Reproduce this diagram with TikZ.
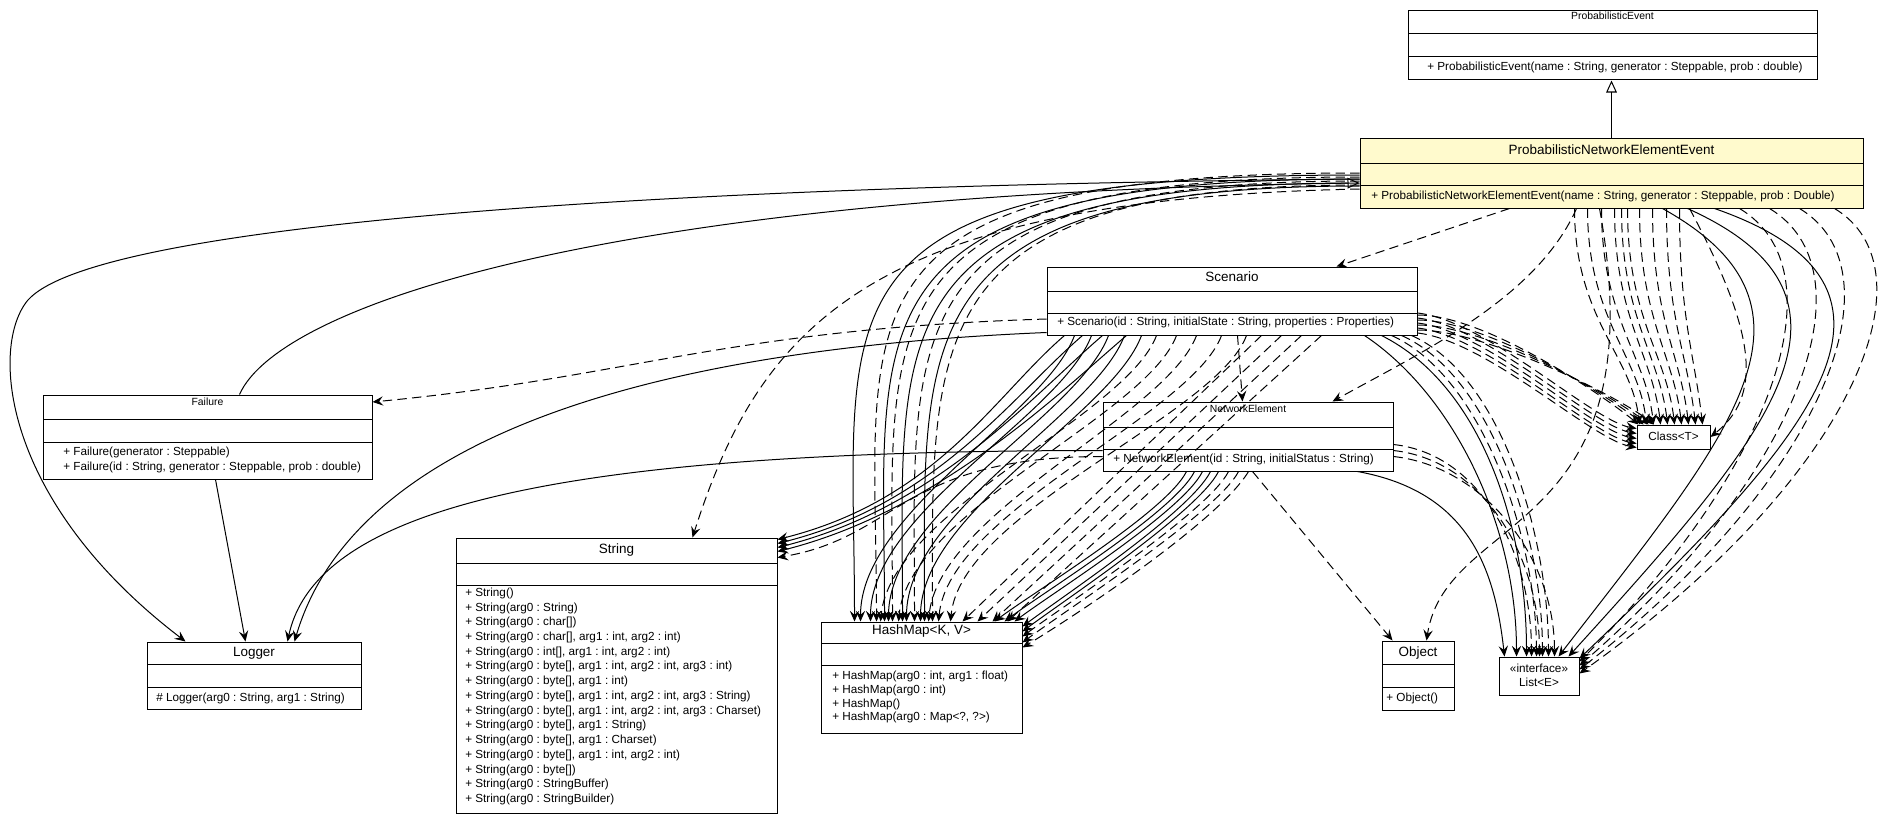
\documentclass[tikz,border=0pt]{standalone}
\usepackage{fontspec}
\setmainfont{Liberation Sans}
\usetikzlibrary{arrows.meta,calc,fit}
\definecolor{pneefill}{RGB}{255,250,205}
\frenchspacing
\tikzset{
  box/.style={draw, line width=0.75pt, inner sep=0pt, fill=white},
  sepline/.style={line width=0.75pt},
  ttl/.style={inner sep=0pt, anchor=base, font=\fontsize{10.1}{12}\selectfont},
  ttls/.style={inner sep=0pt, anchor=base, font=\fontsize{7.8}{9}\selectfont},
  mem/.style={inner sep=0pt, anchor=north west, align=left, font=\fontsize{8.8}{11.05}\selectfont},
  conn/.style={line width=0.75pt, -{Stealth[length=8pt,width=7pt,inset=3pt]}},
  dep/.style={conn, dash pattern=on 7pt off 4pt},
  use/.style={conn},
  gen/.style={line width=0.75pt, -{Triangle[open,length=9pt,width=8pt,fill=white]}},
}
\newcommand{\umlbox}[8]{%
  \node[box, fit={(#2,#3) (#4,#7)}, fill=#8] (#1) {};
  \draw[sepline] (#2,#5) -- (#4,#5) (#2,#6) -- (#4,#6);
}
\begin{document}
\begin{tikzpicture}[x=0.75pt,y=-0.75pt]
\useasboundingbox (0,0) rectangle (1880,824);
\fill[white] (0,0) rectangle (1880,824);

% ---------------- classes ----------------
\umlbox{pe}{1408}{11}{1817}{34}{57}{80}{white}
\node[ttls] (pe-t) at (1612.5,19.5) {ProbabilisticEvent};
\node[mem] (pe-m) at (1427,62) {+ ProbabilisticEvent(name : String, generator : Steppable, prob : double)};

\umlbox{pnee}{1360}{138}{1863}{163}{185}{208}{pneefill}
\node[ttl] (pnee-t) at (1611.5,154) {ProbabilisticNetworkElementEvent};
\node[mem] (pnee-m) at (1371,190.5) {+ ProbabilisticNetworkElementEvent(name : String, generator : Steppable, prob : Double)};

\umlbox{scn}{1047}{267}{1417}{291}{313}{335}{white}
\node[ttl] (scn-t) at (1232,281) {Scenario};
\node[mem] (scn-m) at (1057,316.5) {+ Scenario(id : String, initialState : String, properties : Properties)};

\umlbox{ne}{1103}{402}{1393}{427}{449}{471}{white}
\node[ttls] (ne-t) at (1248,412) {NetworkElement};
\node[mem] (ne-m) at (1113,454) {+ NetworkElement(id : String, initialStatus : String)};

\umlbox{fail}{43}{395}{372}{419}{442}{479}{white}
\node[ttls] (fail-t) at (207.5,405) {Failure};
\node[mem] (fail-m) at (63,447) {+ Failure(generator : Steppable)\\+ Failure(id : String, generator : Steppable, prob : double)};

\umlbox{log}{147}{642}{361}{664}{687}{709}{white}
\node[ttl] (log-t) at (254,656) {Logger};
\node[mem] (log-m) at (156,693) {\# Logger(arg0 : String, arg1 : String)};

\umlbox{str}{456}{538}{777}{563}{585}{813}{white}
\node[ttl] (str-t) at (616.5,553) {String};
\node[mem] (str-m) at (465,587.5) {+ String()\\
+ String(arg0 : String)\\
+ String(arg0 : char[])\\
+ String(arg0 : char[], arg1 : int, arg2 : int)\\
+ String(arg0 : int[], arg1 : int, arg2 : int)\\
+ String(arg0 : byte[], arg1 : int, arg2 : int, arg3 : int)\\
+ String(arg0 : byte[], arg1 : int)\\
+ String(arg0 : byte[], arg1 : int, arg2 : int, arg3 : String)\\
+ String(arg0 : byte[], arg1 : int, arg2 : int, arg3 : Charset)\\
+ String(arg0 : byte[], arg1 : String)\\
+ String(arg0 : byte[], arg1 : Charset)\\
+ String(arg0 : byte[], arg1 : int, arg2 : int)\\
+ String(arg0 : byte[])\\
+ String(arg0 : StringBuffer)\\
+ String(arg0 : StringBuilder)};

\umlbox{hm}{821}{622}{1022}{643}{665}{733}{white}
\node[ttl] (hm-t) at (921.5,634) {HashMap<K, V>};
\node[mem, font=\fontsize{8.8}{10.4}\selectfont] (hm-m) at (832,670.5) {+ HashMap(arg0 : int, arg1 : float)\\
+ HashMap(arg0 : int)\\
+ HashMap()\\
+ HashMap(arg0 : Map<?, ?>)};

\umlbox{obj}{1382}{641}{1454}{664}{687}{710}{white}
\node[ttl] (obj-t) at (1418,656) {Object};
\node[mem] (obj-m) at (1386,692.5) {+ Object()};

\node[box, fit={(1499,657) (1579,695)}] (lst) {};
\node[inner sep=0pt, anchor=north, align=center, font=\fontsize{8.8}{10.5}\selectfont] (lst-t) at (1539,664) {«interface»\\List<E>};

\node[box, fit={(1637,425) (1710,449)}] (cls) {};
\node[inner sep=0pt, anchor=base, font=\fontsize{8.8}{10.5}\selectfont] (cls-t) at (1673.5,440.5) {Class<T>};

% ---------------- generalizations ----------------
\draw[gen] ($(pnee.north west)+(252,0)$) -- ($(pe.south west)+(204,0)$);
\draw[gen] ($(fail.north west)+(197,0)$) .. controls +(40,-90) and +(-750,10) .. ($(pnee.west)+(0,10)$);

% ---------------- Logger ----------------
\draw[use] ($(pnee.west)+(0,6)$) .. controls (700,185) and (100,220) .. (28,300) .. controls (-10,345) and (0,500) .. ($(log.north west)+(39,0)$);
\draw[use] ($(fail.south west)+(173,0)$) -- ($(log.north west)+(99,0)$);
\draw[use] ($(ne.west)+(0,14)$) .. controls +(-520,0) and +(30,-140) .. ($(log.north west)+(141,0)$);
\draw[use] ($(scn.south west)+(0,-3)$) .. controls +(-480,20) and +(50,-170) .. ($(log.north west)+(148,0)$);

% ---------------- Failure ----------------
\draw[dep] ($(scn.west)+(0,18)$) .. controls +(-320,10) and +(260,-25) .. ($(fail.east)+(0,-35)$);

% ---------------- String ----------------
\draw[dep] ($(pnee.west)+(0,16)$) .. controls +(-480,10) and +(70,-220) .. ($(str.north west)+(237,0)$);
\foreach \s/\e in {18/2, 36/6, 56/10, 80/14}
  \draw[use] ($(scn.south west)+(\s,0)$) .. controls +(-70,60) and +(160,-40) .. ($(str.north east)+(0,\e)$);
\draw[dep] ($(ne.west)+(0,20)$) .. controls +(-200,0) and +(120,-20) .. ($(str.north east)+(0,20)$);

% ---------------- Scenario / NetworkElement ----------------
\draw[dep] ($(scn.south west)+(191,0)$) -- ($(ne.north west)+(140,0)$);
\draw[dep] ($(pnee.south west)+(150,0)$) -- ($(scn.north west)+(290,0)$);
\draw[dep] ($(pnee.south west)+(217,0)$) .. controls +(-40,90) and +(90,-50) .. ($(ne.north west)+(230,0)$);

% ---------------- Class<T> ----------------
\foreach \s/\e in {215/3,228/10,242/17,255/24,262/31,268/38,280/45,293/52,307/59,320/66}
  \draw[dep] ($(pnee.south west)+(\s,0)$) .. controls +(0,110) and +(-8,-70) .. ($(cls.north west)+(\e,0)$);
\draw[dep] ($(pnee.south west)+(330,0)$) .. controls +(70,130) and +(50,-40) .. (cls.east);
\foreach \s/\e in {12/4, 17/9, 22/14, 27/19, 32/23}
  \draw[dep] ($(scn.east)+(0,\s)$) .. controls +(70,8) and +(-45,-8) .. ($(cls.north west)+(0,\e)$);
\foreach \s/\e in {14/2, 19/7, 24/12, 29/17}
  \draw[dep] ($(scn.east)+(0,\s)$) .. controls +(70,0) and +(-30,-25) .. ($(cls.north west)+(\e,0)$);

% ---------------- List<E> ----------------
\draw[use] ($(pnee.south west)+(303,0)$) .. controls +(180,100) and +(170,-220) .. ($(lst.north west)+(60,0)$);
\draw[use] ($(pnee.south west)+(328,0)$) .. controls +(200,90) and +(200,-220) .. ($(lst.north west)+(70,0)$);
\draw[use] ($(pnee.south west)+(355,0)$) .. controls +(230,80) and +(230,-220) .. ($(lst.north east)+(0,2)$);
\foreach \s/\e/\c in {380/5/200, 410/9/230, 440/13/255, 475/17/280}
  \draw[dep] ($(pnee.south west)+(\s,0)$) .. controls +(100,60) and +(\c,-200) .. ($(lst.north east)+(0,\e)$);
\draw[use] ($(scn.south west)+(318,0)$) .. controls +(90,60) and +(0,-130) .. ($(lst.north west)+(18,0)$);
\draw[use] ($(scn.south west)+(335,0)$) .. controls +(100,50) and +(0,-130) .. ($(lst.north west)+(28,0)$);
\foreach \s/\e in {345/38, 355/44, 365/50}
  \draw[dep] ($(scn.south west)+(\s,0)$) .. controls +(90,40) and +(0,-120) .. ($(lst.north west)+(\e,0)$);
\draw[use] ($(ne.south west)+(255,0)$) .. controls +(110,20) and +(-10,-90) .. ($(lst.north west)+(6,0)$);
\foreach \s/\e in {8/33, 14/41, 20/56}
  \draw[dep] ($(ne.east)+(0,\s)$) .. controls +(90,10) and +(0,-100) .. ($(lst.north west)+(\e,0)$);

% ---------------- Object ----------------
\draw[dep] ($(ne.south west)+(150,0)$) -- ($(obj.north west)+(11,0)$);
\draw[dep] ($(pnee.south west)+(240,0)$) .. controls +(60,330) and +(20,-130) .. ($(obj.north west)+(45,0)$);

% ---------------- HashMap ----------------
\foreach \s/\e/\a/\b in {2/34/560/320, 6/64/520/300, 10/82/490/290, 13/104/460/280}
  \draw[use] ($(pnee.west)+(0,\s)$) .. controls +(-\a,0) and +(0,-\b) .. ($(hm.north west)+(\e,0)$);
\foreach \s/\e/\a/\b in {0/56/540/310, 4/72/505/300, 8/94/475/290, 12/112/445/280}
  \draw[dep] ($(pnee.west)+(0,\s)$) .. controls +(-\a,0) and +(0,-\b) .. ($(hm.north west)+(\e,0)$);
\foreach \s/\e in {28/40, 45/50, 62/68, 78/86, 95/100}
  \draw[use] ($(scn.south west)+(\s,0)$) .. controls +(-30,80) and +(0,-110) .. ($(hm.north west)+(\e,0)$);
\foreach \s/\e in {110/60, 130/78, 150/108, 175/118, 200/130}
  \draw[dep] ($(scn.south west)+(\s,0)$) .. controls +(-30,80) and +(10,-110) .. ($(hm.north west)+(\e,0)$);
\foreach \s/\e in {215/60, 235/45, 255/30, 275/15}
  \draw[dep] ($(scn.south west)+(\s,0)$) -- ($(hm.north east)+(-\e,0)$);
\foreach \s/\e in {84/28, 92/18, 100/8}
  \draw[use] ($(ne.south west)+(\s,0)$) .. controls +(-20,40) and +(40,-30) .. ($(hm.north east)+(-\e,0)$);
\foreach \s/\e in {108/5, 116/10}
  \draw[use] ($(ne.south west)+(\s,0)$) .. controls +(-20,40) and +(40,-30) .. ($(hm.north east)+(0,\e)$);
\foreach \s/\e in {126/15, 136/21}
  \draw[dep] ($(ne.south west)+(\s,0)$) .. controls +(-20,40) and +(40,-30) .. ($(hm.north east)+(0,\e)$);
\draw[dep] ($(ne.south west)+(146,0)$) .. controls +(-30,50) and +(50,-30) .. ($(hm.east)+(0,-30)$);
\end{tikzpicture}
\end{document}
